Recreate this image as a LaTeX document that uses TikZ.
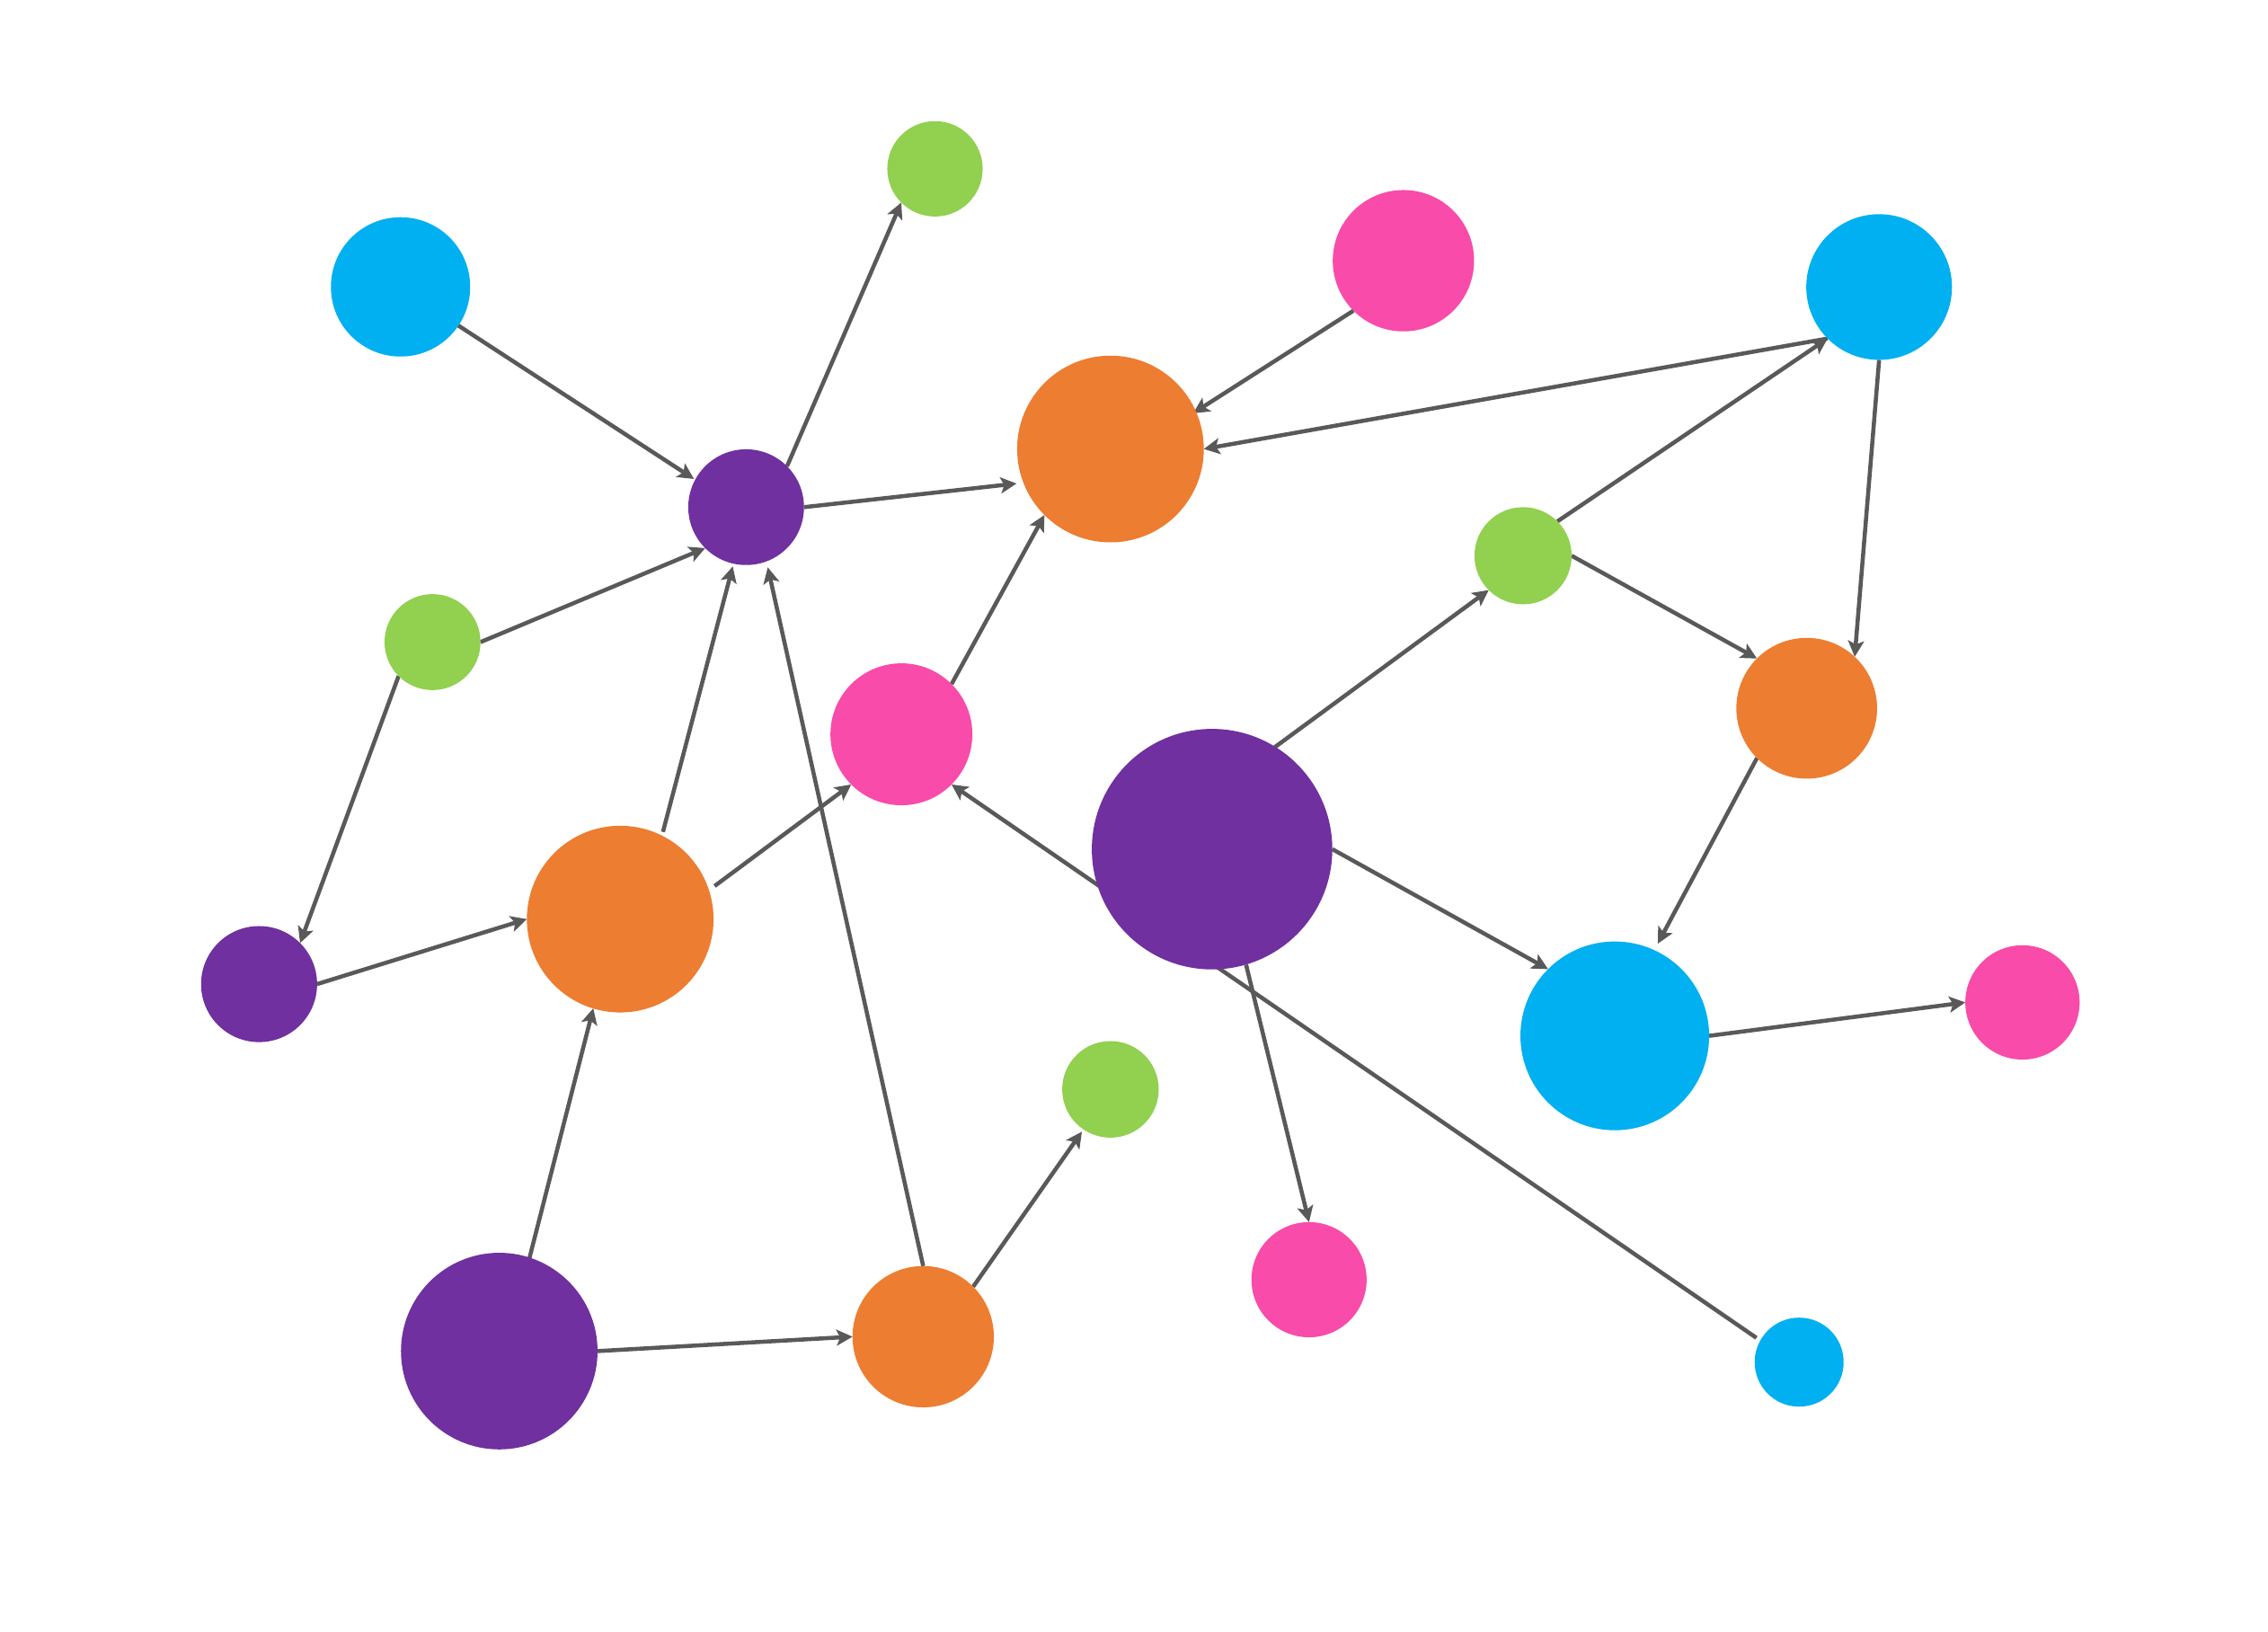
\documentclass[tikz,border=0pt]{standalone}
\usetikzlibrary{arrows.meta,calc,backgrounds}
\definecolor{cblue}{HTML}{00B0F0}
\definecolor{corange}{HTML}{ED7D31}
\definecolor{cpurple}{HTML}{7030A0}
\definecolor{cgreen}{HTML}{92D050}
\definecolor{cpink}{HTML}{F94BA9}
\definecolor{cline}{HTML}{595959}
\begin{document}
\begin{tikzpicture}[x=1pt,y=-1pt,
  dot/.style 2 args={circle,fill=#1,draw=none,inner sep=0pt,outer sep=0pt,minimum size=#2},
  link/.style={draw=cline,line width=2.8pt,-{Stealth[length=11pt,width=11pt,inset=2.5pt]}}]
% nodes
\node[dot={cblue}{95.8pt}]   (A) at (275.5,197.3) {};
\node[dot={cgreen}{65.6pt}]  (B) at (643.1,116.1) {};
\node[dot={cpink}{97.2pt}]   (C) at (965.3,179.3) {};
\node[dot={cblue}{100.2pt}]  (D) at (1292.5,197.4) {};
\node[dot={cpurple}{79.6pt}] (E) at (513.2,348.8) {};
\node[dot={corange}{128.4pt}](F) at (763.8,308.8) {};
\node[dot={cgreen}{66pt}]    (G) at (297.5,441.6) {};
\node[dot={cgreen}{66.8pt}]  (H) at (1047.6,382.2) {};
\node[dot={cpink}{97.6pt}]   (I) at (620,505) {};
\node[dot={corange}{96.8pt}] (J) at (1242.7,487.1) {};
\node[dot={cpurple}{165.4pt}](K) at (833.7,584) {};
\node[dot={cpurple}{79.8pt}] (L) at (178.2,676.8) {};
\node[dot={corange}{128.4pt}](M) at (426.6,632.1) {};
\node[dot={cblue}{129.8pt}]  (N) at (1110.7,712.4) {};
\node[dot={cpink}{78.6pt}]   (O) at (1391.1,689.4) {};
\node[dot={cgreen}{66.4pt}]  (P) at (763.8,749.2) {};
\node[dot={cpink}{79.2pt}]   (Q) at (900.4,880.1) {};
\node[dot={cpurple}{135.2pt}](R) at (343.4,929.2) {};
\node[dot={corange}{97.2pt}] (S) at (635,919.3) {};
\node[dot={cblue}{61.2pt}]   (T) at (1237.5,936.8) {};
% connectors, behind the nodes
\begin{pgfonlayer}{background}
\fill[white] (0,0) rectangle (1560,1122.4);
\draw[link] ($(A)+(-33.8:46.6pt)$) -- ($(E)+(151.6:40.8pt)$);
\draw[link] (E.45) -- (B.-135);
\draw[link] (E.east) -- ($(F)+(-159.8:68.8pt)$);
\draw[link] (C.-135) -- ($(F)+(23.4:62pt)$);
\draw[link] (D.-135) -- (F.east);
\draw[link] (G.east) -- (E.-135);
\draw[link] (G.-135) -- (L.45);
\draw[link] (L.east) -- (M.west);
\draw[link] ($(M)+(63.9:66.8pt)$) -- ($(E)+(-102.7:41.8pt)$);
\draw[link] ($(M)+(19.3:68.8pt)$) -- (I.-135);
\draw[link] (I.45) -- (F.-135);
\draw[link] (S.north) -- ($(E)+(-70.2:44pt)$);
\draw[link] ($(R)+(72:67pt)$) -- ($(M)+(-106.8:64.1pt)$);
\draw[link] (R.east) -- (S.west);
\draw[link] (S.45) -- ($(P)+(-124:35.1pt)$);
\draw[link] ($(K)+(58.5:82pt)$) -- (H.-135);
\draw[link] (H.45) -- (D.-135);
\draw[link] (H.east) -- (J.135);
\draw[link] (D.south) -- (J.47);
\draw[link] (K.east) -- (N.135);
\draw[link] (J.-135) -- ($(N)+(65:70pt)$);
\draw[link] (N.east) -- (O.west);
\draw[link] ($(K)+(-73.6:82.8pt)$) -- (Q.north);
\draw[link] ($(T)+(150.4:33.8pt)$) -- (I.-45);
\end{pgfonlayer}
\useasboundingbox (0,0) rectangle (1560,1122.4);
\end{tikzpicture}
\end{document}
